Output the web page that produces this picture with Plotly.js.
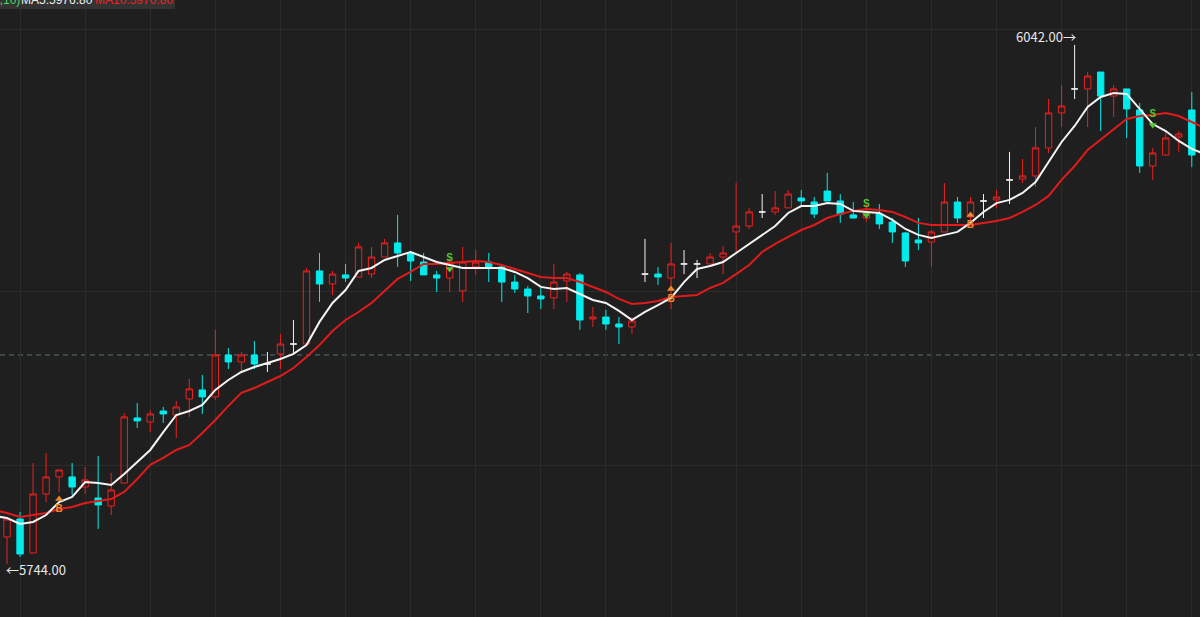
<!DOCTYPE html>
<html>
<head>
<meta charset="utf-8">
<script src="https://cdn.plot.ly/plotly-3.0.1.min.js"></script>
<style>
  html, body { margin:0; padding:0; background:#1f1f1f; }
  #chart { width:1200px; height:617px; }
</style>
</head>
<body>
<div id="chart"></div>
<script>
// ---- data ----
const opens = [5759.2, 5769.5, 5750.0, 5783.9, 5793.7, 5793.7, 5787.9, 5781.6, 5777.0, 5790.2,
 5827.6, 5825.3, 5831.6, 5829.3, 5838.5, 5843.7, 5839.7, 5863.8, 5859.8, 5863.8,
 5858.6, 5864.4, 5870.1, 5870.1, 5912.1, 5904.6, 5909.8, 5908.6, 5910.3, 5920.1,
 5928.2, 5922.4, 5917.2, 5909.8, 5908.0, 5900.6, 5914.4, 5917.2, 5914.4, 5905.7,
 5901.7, 5897.7, 5896.6, 5906.3, 5909.8, 5884.5, 5885.6, 5881.6, 5879.9, 5910.3,
 5910.3, 5908.0, 5916.1, 5916.1, 5916.1, 5920.1, 5934.5, 5937.9, 5946.0, 5946.0,
 5948.3, 5954.0, 5951.7, 5958.0, 5952.3, 5944.3, 5942.5, 5944.8, 5940.2, 5933.9,
 5929.9, 5928.7, 5934.5, 5951.7, 5943.1, 5952.3, 5952.9, 5964.4, 5964.9, 5966.7,
 5982.8, 6002.9, 6016.7, 6016.7, 6026.4, 6012.6, 6016.7, 6004.6, 5972.4, 5978.7,
 5989.1, 6004.6];
const highs = [5770.5, 5773.6, 5801.7, 5807.5, 5797.7, 5801.7, 5799.4, 5805.7, 5796.0, 5830.5,
 5836.2, 5832.2, 5833.9, 5837.4, 5850.0, 5852.3, 5878.2, 5867.8, 5865.5, 5871.8,
 5865.5, 5875.9, 5883.9, 5913.8, 5922.4, 5912.1, 5916.1, 5928.2, 5925.9, 5930.5,
 5944.3, 5923.6, 5922.4, 5912.1, 5920.1, 5925.9, 5924.1, 5922.4, 5915.5, 5909.8,
 5903.4, 5902.3, 5916.1, 5911.5, 5910.9, 5891.4, 5889.7, 5885.6, 5885.6, 5930.5,
 5914.4, 5928.2, 5924.1, 5918.4, 5922.4, 5926.4, 5962.6, 5948.3, 5956.3, 5958.0,
 5958.6, 5958.6, 5954.6, 5968.4, 5956.3, 5951.7, 5950.6, 5950.6, 5942.5, 5934.5,
 5942.5, 5935.6, 5962.6, 5954.6, 5954.6, 5956.3, 5958.6, 5980.5, 5976.4, 5994.8,
 6010.9, 6019.0, 6042.0, 6026.4, 6026.4, 6019.0, 6016.7, 6008.6, 5982.8, 5992.0,
 5992.5, 6014.9];
const lows = [5743.7, 5747.7, 5750.0, 5779.3, 5785.1, 5783.3, 5783.9, 5763.8, 5771.8, 5790.2,
 5821.8, 5819.5, 5824.7, 5816.1, 5828.2, 5829.9, 5837.9, 5855.7, 5854.0, 5855.7,
 5854.0, 5855.7, 5864.4, 5870.1, 5894.3, 5898.3, 5905.7, 5908.6, 5908.0, 5920.1,
 5914.4, 5906.3, 5909.8, 5900.0, 5900.0, 5894.3, 5909.8, 5905.7, 5894.3, 5899.4,
 5887.9, 5890.2, 5890.2, 5894.3, 5878.2, 5879.9, 5878.2, 5870.1, 5875.9, 5905.7,
 5904.0, 5890.2, 5910.3, 5908.0, 5916.1, 5910.3, 5922.4, 5936.2, 5942.5, 5944.3,
 5948.3, 5950.0, 5942.5, 5952.3, 5939.7, 5942.5, 5940.2, 5936.2, 5928.2, 5914.4,
 5924.1, 5914.4, 5934.5, 5939.7, 5941.0, 5942.5, 5948.3, 5950.6, 5962.6, 5960.3,
 5979.9, 5994.8, 6010.9, 5994.8, 5992.5, 6000.6, 5988.5, 5968.4, 5964.4, 5978.7,
 5980.5, 5971.8];
const closes = [5769.5, 5749.4, 5783.9, 5793.7, 5797.7, 5787.9, 5792.0, 5777.6, 5786.2, 5828.2,
 5825.9, 5829.9, 5829.9, 5833.9, 5844.3, 5839.7, 5863.8, 5859.8, 5863.8, 5858.6,
 5858.6, 5870.1, 5870.1, 5912.1, 5904.6, 5910.3, 5908.0, 5925.9, 5920.1, 5928.2,
 5922.4, 5917.8, 5909.8, 5908.0, 5917.2, 5917.2, 5917.2, 5914.4, 5905.7, 5901.7,
 5897.7, 5896.0, 5905.7, 5910.3, 5883.9, 5885.6, 5881.6, 5879.9, 5883.3, 5910.3,
 5908.6, 5916.1, 5916.1, 5916.1, 5920.1, 5922.4, 5937.9, 5946.0, 5946.0, 5948.3,
 5956.3, 5952.3, 5944.8, 5952.3, 5944.8, 5942.5, 5944.8, 5939.1, 5934.5, 5917.8,
 5928.2, 5934.5, 5951.7, 5942.5, 5951.7, 5952.3, 5954.6, 5964.4, 5966.7, 5982.8,
 6002.9, 6006.9, 6016.7, 6024.1, 6012.6, 6016.7, 6005.2, 5972.4, 5979.9, 5988.5,
 5990.8, 5978.7];

// moving-average lines (one value before the first bar and one after the last, read at the edges)
const ma5 = [5771.3,
 5770.1, 5766.7, 5767.8, 5771.8, 5779.3, 5782.2, 5790.8, 5790.2, 5789.1, 5795.4,
 5802.3, 5809.2, 5819.5, 5829.3, 5831.6, 5835.1, 5843.7, 5849.4, 5854.0, 5856.9,
 5859.2, 5861.5, 5864.4, 5869.5, 5882.8, 5893.7, 5901.1, 5912.1, 5913.8, 5918.4,
 5920.7, 5923.0, 5920.1, 5917.2, 5915.5, 5913.8, 5913.8, 5913.8, 5913.8, 5911.5,
 5908.0, 5902.9, 5901.7, 5902.3, 5898.9, 5895.4, 5893.7, 5889.1, 5883.9, 5888.5,
 5892.5, 5896.6, 5905.7, 5913.2, 5914.9, 5917.2, 5922.4, 5927.6, 5932.8, 5937.9,
 5945.4, 5949.4, 5949.4, 5951.1, 5950.6, 5946.6, 5946.0, 5945.4, 5941.4, 5936.2,
 5932.8, 5931.0, 5932.8, 5934.5, 5939.7, 5946.0, 5951.1, 5952.9, 5956.9, 5963.2,
 5974.7, 5986.2, 5995.4, 6006.3, 6012.1, 6014.4, 6013.8, 6005.2, 5996.5, 5992.5,
 5986.8, 5982.2,
 5979.3];
const ma10 = [5774.7,
 5773.0, 5770.7, 5771.8, 5773.0, 5775.3, 5776.4, 5778.7, 5779.9, 5781.0, 5785.1,
 5792.5, 5800.6, 5804.6, 5809.2, 5812.1, 5819.0, 5826.4, 5834.5, 5842.0, 5844.8,
 5848.3, 5851.7, 5856.3, 5862.6, 5869.5, 5877.6, 5883.9, 5888.5, 5893.7, 5900.6,
 5907.5, 5911.5, 5916.1, 5916.1, 5916.7, 5917.2, 5917.8, 5917.2, 5915.5, 5913.2,
 5910.9, 5908.6, 5908.0, 5908.0, 5905.7, 5902.9, 5900.0, 5896.0, 5893.1, 5893.7,
 5894.8, 5897.1, 5897.7, 5898.3, 5902.3, 5905.2, 5910.3, 5915.5, 5923.0, 5927.6,
 5931.6, 5935.6, 5938.5, 5942.5, 5944.8, 5946.6, 5947.7, 5947.1, 5946.0, 5943.1,
 5939.7, 5938.5, 5938.5, 5938.5, 5938.5, 5939.7, 5940.8, 5942.5, 5946.0, 5950.0,
 5955.2, 5964.4, 5972.4, 5981.6, 5987.4, 5993.1, 5999.4, 6001.1, 6001.7, 6002.9,
 6001.1, 5997.7,
 5994.2];

// buy / sell signals (bar index, price)
const buyBars = [4, 51, 74];
const buyPrices = [5781.0, 5901.7, 5944.3];
const sellBars = [34, 66, 88];
const sellPrices = [5913.2, 5944.3, 5996.0];

const highLabel = "6042.00→";
const lowLabel = "←5744.00";
const lastPriceLine = 5863.8;
const gridPrices = [5800, 5900, 6050.6];
const gridBars = [1, 6, 11, 16, 21, 26, 31, 36, 41, 46, 51, 56, 61, 66, 71, 76, 81, 86, 91];
const legendParts = ["MA(5,10)", "MA5:5976.80", "MA10:5970.80"];

// ---- build traces ----
const bars = opens.map((_, i) => i);
function subset(pred) {
  const o = {x: [], open: [], high: [], low: [], close: []};
  bars.forEach(i => {
    if (pred(i)) {
      o.x.push(i); o.open.push(opens[i]); o.high.push(highs[i]);
      o.low.push(lows[i]); o.close.push(closes[i]);
    }
  });
  return o;
}
const RED = '#ec2020', CYAN = '#00ecec', WHITE = '#f2f2f2';
function candle(d, lineColor, fill) {
  return Object.assign({
    type: 'candlestick',
    increasing: {line: {color: lineColor, width: 1}, fillcolor: fill},
    decreasing: {line: {color: lineColor, width: 1}, fillcolor: fill},
    whiskerwidth: 0,
    hoverinfo: 'skip',
    showlegend: false
  }, d);
}
const up = candle(subset(i => closes[i] > opens[i]), RED, 'rgba(0,0,0,0)');
const down = candle(subset(i => closes[i] < opens[i]), CYAN, CYAN);
const doji = candle(subset(i => closes[i] === opens[i]), WHITE, WHITE);

const maX = ma5.map((_, i) => i - 1);
const ma5Trace = {type: 'scatter', mode: 'lines', x: maX, y: ma5,
  line: {color: '#f4f4f4', width: 2}, hoverinfo: 'skip'};
const ma10Trace = {type: 'scatter', mode: 'lines', x: maX, y: ma10,
  line: {color: '#e01b1b', width: 2}, hoverinfo: 'skip'};

const sigFont = 'Liberation Sans, Arial';
const buyTrace = {type: 'scatter', mode: 'markers+text', x: buyBars, y: buyPrices,
  marker: {symbol: 'triangle-up', size: 7, color: '#f0892a'},
  text: buyBars.map(() => '<b>B</b>'), textposition: 'bottom center',
  textfont: {size: 10, color: '#f0892a', family: sigFont}, hoverinfo: 'skip'};
const sellTrace = {type: 'scatter', mode: 'markers+text', x: sellBars, y: sellPrices,
  marker: {symbol: 'triangle-down', size: 7, color: '#52c832'},
  text: sellBars.map(() => '<b>S</b>'), textposition: 'top center',
  textfont: {size: 10, color: '#52c832', family: sigFont}, hoverinfo: 'skip'};

const hiIdx = highs.indexOf(Math.max(...highs));
const loIdx = lows.indexOf(Math.min(...lows));
const labelFont = 'Noto Sans CJK SC, Noto Sans, sans-serif';

const layout = {
  width: 1200, height: 617,
  margin: {l: 0, r: 0, t: 0, b: 0},
  paper_bgcolor: '#1f1f1f', plot_bgcolor: '#1f1f1f',
  showlegend: false,
  hovermode: false,
  xaxis: {range: [-0.54, 91.63], tickvals: gridBars, showticklabels: false, ticks: '',
          showgrid: true, gridcolor: '#2c2c2c', gridwidth: 1, zeroline: false, showline: false,
          rangeslider: {visible: false}, fixedrange: true},
  yaxis: {range: [5713.2, 6067.8], tickvals: gridPrices, showticklabels: false, ticks: '',
          showgrid: true, gridcolor: '#2c2c2c', gridwidth: 1, zeroline: false, showline: false,
          fixedrange: true},
  shapes: [
    {type: 'line', xref: 'paper', x0: 0, x1: 1, yref: 'y', y0: lastPriceLine, y1: lastPriceLine,
     line: {color: 'rgba(95,125,125,0.9)', width: 1, dash: '5px,4px'}, layer: 'below'},
    {type: 'rect', xref: 'paper', x0: 0, x1: 175 / 1200, yref: 'paper', y0: 1 - 9 / 617, y1: 1.05,
     fillcolor: '#333333', line: {width: 0}, layer: 'above'}
  ],
  annotations: [
    {x: hiIdx, y: highs[hiIdx], xref: 'x', yref: 'y', text: highLabel, showarrow: false,
     xanchor: 'right', yanchor: 'middle', xshift: 3, yshift: 8,
     font: {size: 13, color: '#e8e8e8', family: labelFont}},
    {x: loIdx, y: lows[loIdx], xref: 'x', yref: 'y', text: lowLabel, showarrow: false,
     xanchor: 'left', yanchor: 'middle', xshift: -3, yshift: -6,
     font: {size: 13, color: '#e8e8e8', family: labelFont}},
    {x: 20 / 1200, y: 1, xref: 'paper', yref: 'paper', text: legendParts[0], showarrow: false,
     xanchor: 'right', yanchor: 'middle', yshift: 0, xshift: 2,
     font: {size: 12, color: '#4cd964', family: 'Liberation Sans, Arial'}},
    {x: 21 / 1200, y: 1, xref: 'paper', yref: 'paper', text: legendParts[1], showarrow: false,
     xanchor: 'left', yanchor: 'middle', yshift: 0, xshift: -2,
     font: {size: 12, color: '#f0f0f0', family: 'Liberation Sans, Arial'}},
    {x: 95 / 1200, y: 1, xref: 'paper', yref: 'paper', text: legendParts[2], showarrow: false,
     xanchor: 'left', yanchor: 'middle', yshift: 0, xshift: -2,
     font: {size: 12, color: '#ee2222', family: 'Liberation Sans, Arial'}}
  ]
};

Plotly.newPlot('chart', [up, down, doji, ma10Trace, ma5Trace, buyTrace, sellTrace], layout,
  {displayModeBar: false, staticPlot: true});
</script>
</body>
</html>
